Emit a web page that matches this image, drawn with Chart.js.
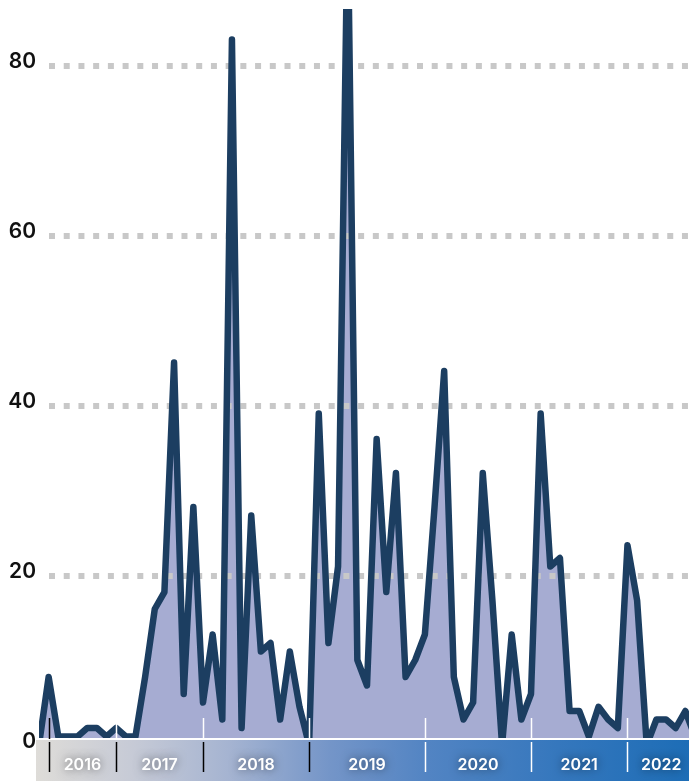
<!DOCTYPE html>
<html>
<head>
<meta charset="utf-8">
<script src="https://cdn.jsdelivr.net/npm/chart.js@4.4.0/dist/chart.umd.min.js"></script>
<style>
    html, body { margin: 0; padding: 0; background: #fff; overflow: hidden; }
    #wrap { width: 695px; height: 781px; }
</style>
</head>
<body>
<div id="wrap"><canvas id="myChart" width="695" height="781"></canvas></div>
<script>
// Year tick labels and the index of the first point of each year
var years = ['2016', '2017', '2018', '2019', '2020', '2021', '2022'];
var yearStart = [1, 8, 17, 28, 40, 51, 61];

// Series values, one per period
var values = [0, 8, 1, 1, 1, 2, 2, 1, 2, 1,
    1, 8, 16, 18, 45, 6, 28, 5, 13, 3,
    83, 2, 27, 11, 12, 3, 11, 4.5, 0, 39,
    12, 21, 98, 10, 7, 36, 18, 32, 8, 10,
    13, 28, 44, 8, 3, 5, 32, 17, 0, 13,
    3, 6, 39, 21, 22, 4, 4, 1, 4.5, 3,
    2, 23.5, 17, 0, 3, 3, 2, 4, 1];

// y axis ticks
var yTicks = [0, 20, 40, 60, 80];

// category labels built from the year list
var periods = values.map(function (v, i) {
    var y = '2015';
    yearStart.forEach(function (s, k) { if (i >= s) y = years[k]; });
    return y + '-' + i;
});

// Dotted gridlines drawn over the fill but under the line
var dottedGrid = {
    id: 'dottedGrid',
    beforeDatasetDraw: function (chart, args) {
        if (args.index !== 0) return;
        var ctx = chart.ctx, y = chart.scales.y;
        ctx.save();
        ctx.strokeStyle = '#c8c8c8';
        ctx.lineWidth = 6;
        ctx.setLineDash([6, 8.72]);
        yTicks.forEach(function (t) {
            if (t === 0) return;
            var py = Math.round(y.getPixelForValue(t)) + 1;
            ctx.beginPath();
            ctx.moveTo(49, py);
            ctx.lineTo(chart.width, py);
            ctx.stroke();
        });
        ctx.restore();
    }
};

// Year band along the bottom
var yearBand = {
    id: 'yearBand',
    afterDraw: function (chart) {
        var ctx = chart.ctx, x = chart.scales.x;
        var top = 740, bottom = chart.height, left = 36, right = chart.width;
        ctx.save();

        var g = ctx.createLinearGradient(left, 0, 689, 0);
        g.addColorStop(0, '#dedcd8');
        g.addColorStop(0.15, '#c6cad6');
        g.addColorStop(0.3, '#a4b3d1');
        g.addColorStop(0.45, '#7495c8');
        g.addColorStop(0.6, '#5284c3');
        g.addColorStop(0.8, '#3577bd');
        g.addColorStop(1, '#1d6db6');
        ctx.fillStyle = g;
        ctx.fillRect(left, top, right - left, bottom - top);

        // white base line
        ctx.fillStyle = '#fff';
        ctx.fillRect(left, 738, right - left, 2);

        // year separators
        yearStart.forEach(function (s, k) {
            var px = Math.round(x.getPixelForValue(s)) + 0.5;
            ctx.lineWidth = 1.5;
            ctx.strokeStyle = k === 0 ? '#000' : '#fff';
            ctx.beginPath();
            ctx.moveTo(px, 718);
            ctx.lineTo(px, 739);
            ctx.stroke();
            ctx.strokeStyle = k < 4 ? '#000' : '#fff';
            ctx.beginPath();
            ctx.moveTo(px, 742);
            ctx.lineTo(px, 772);
            ctx.stroke();
        });

        // year labels
        ctx.font = '600 16px Inter, "Open Sans", sans-serif';
        ctx.textAlign = 'center';
        ctx.textBaseline = 'middle';
        ctx.fillStyle = '#fff';
        ctx.shadowColor = 'rgba(0, 0, 0, 0.55)';
        ctx.shadowBlur = 10;
        years.forEach(function (yr, k) {
            var a = x.getPixelForValue(yearStart[k]);
            var b = k + 1 < yearStart.length ? x.getPixelForValue(yearStart[k + 1]) : x.getPixelForValue(values.length - 1);
            ctx.fillText(yr, (a + b) / 2, 765);
        });
        ctx.restore();
    }
};

var ctx = document.getElementById('myChart').getContext('2d');
var myChart = new Chart(ctx, {
    type: 'line',
    data: {
        labels: periods,
        datasets: [{
            data: values,
            fill: false,
            borderColor: '#1c3e61',
            borderWidth: 6.5,
            borderJoinStyle: 'round',
            borderCapStyle: 'round',
            pointRadius: 0,
            tension: 0,
            clip: 0
        }, {
            data: values,
            fill: 'origin',
            backgroundColor: '#a6acd2',
            borderWidth: 0,
            pointRadius: 0,
            tension: 0,
            clip: 0
        }]
    },
    options: {
        responsive: false,
        devicePixelRatio: 1,
        animation: false,
        layout: { padding: { top: 9, bottom: 36, left: 0, right: 0 } },
        plugins: {
            legend: { display: false },
            tooltip: { enabled: false }
        },
        scales: {
            x: {
                display: false,
                offset: false
            },
            y: {
                min: 0,
                max: 86.6,
                afterFit: function (scale) {
                    scale.width = 39;
                    scale.paddingTop = 0;
                    scale.paddingBottom = 0;
                },
                afterBuildTicks: function (scale) {
                    scale.ticks = yTicks.map(function (v) { return { value: v }; });
                },
                grid: { display: false, drawTicks: false },
                border: { display: false },
                ticks: {
                    padding: 3,
                    labelOffset: -3,
                    color: '#111',
                    font: { family: 'Inter', size: 21, weight: '600' }
                }
            }
        }
    },
    plugins: [dottedGrid, yearBand]
});
</script>
</body>
</html>
